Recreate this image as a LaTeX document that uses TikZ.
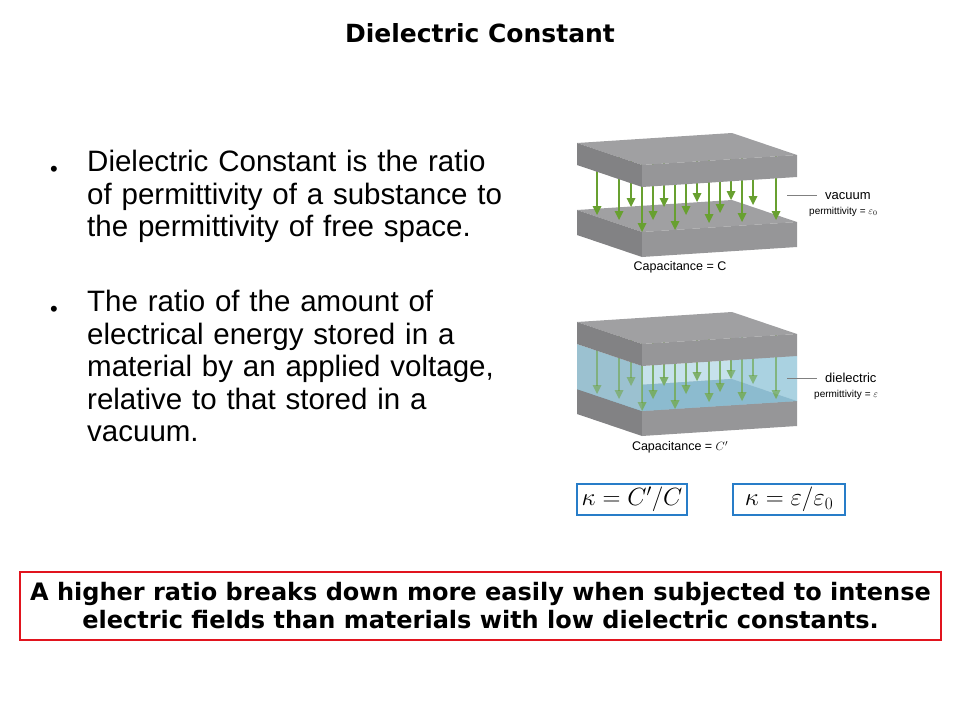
\documentclass[tikz,border=0pt]{standalone}
\usepackage{fontspec}
\setmainfont{Liberation Sans}
\newfontfamily\djv{DejaVu Sans}
\usetikzlibrary{calc}
\definecolor{topg}{RGB}{160,160,162}
\definecolor{leftg}{RGB}{130,130,132}
\definecolor{frontg}{RGB}{150,150,152}
\definecolor{arrg}{RGB}{104,160,48}
\definecolor{blu}{RGB}{160,205,222}
\definecolor{dblu}{RGB}{110,160,185}
\definecolor{boxb}{RGB}{40,125,200}
\definecolor{redb}{RGB}{225,20,30}
\tikzset{
  body/.style={font=\fontsize{29.5}{32.5}\selectfont, anchor=base west, inner sep=0},
  lbl/.style={font=\fontsize{13}{15}\selectfont, anchor=base west, inner sep=0},
  sub/.style={font=\fontsize{10}{12}\selectfont, anchor=base west, inner sep=0},
  fbox/.style={draw=boxb, line width=1.5pt, minimum width=110pt, minimum height=31pt, inner sep=0, font=\fontsize{25}{26}\selectfont},
  farr/.style={arrg, line width=1.2pt},
}
\newcommand{\myplate}[2]{%
  \fill[topg] (577,#1) -- (732,#1-10) -- (797,#1+12) -- (642,#1+22) -- cycle;
  \fill[leftg] (577,#1) -- (642,#1+22) -- (642,#1+22+#2) -- (577,#1+#2) -- cycle;
  \fill[frontg] (642,#1+22) -- (797,#1+12) -- (797,#1+12+#2) -- (642,#1+22+#2) -- cycle;
}
\newcommand{\myarrows}[2]{%
  \foreach \x/\t in {597/215,619/220,631/207,642/232,653/220,664/207,675/230,686/215,697/202,709/223,720/213,731/200,742/222,753/205,776/220}{
    \draw[farr,#2] (\x,#1+150) -- (\x,#1+\t-8);
    \fill[#2,arrg] (\x-4.5,#1+\t-9) -- (\x+4.5,#1+\t-9) -- (\x,#1+\t) -- cycle;
  }
}
\begin{document}
\begin{tikzpicture}[x=1pt,y=-1pt]
\useasboundingbox (0,0) rectangle (960,720);
\node[font=\djv\bfseries\fontsize{25}{28}\selectfont] (title) at (480,33) {Dielectric Constant};

\node[body, font=\fontsize{22}{24}\selectfont] (b1) at (50,176) {•};
\node[body, align=left, text width=440pt, anchor=north west] (t1) at (87,150) {Dielectric Constant is the ratio\\of permittivity of a substance to\\the permittivity of free space.};
\node[body, font=\fontsize{22}{24}\selectfont] (b2) at (50,316) {•};
\node[body, align=left, text width=440pt, anchor=north west] (t2) at (87,290) {The ratio of the amount of\\electrical energy stored in a\\material by an applied voltage,\\relative to that stored in a\\vacuum.};

% top capacitor
\myplate{210}{25}
\myarrows{0}{}
\myplate{143}{22}
\coordinate (v1) at (787,195);
\coordinate (v2) at (817,195);
\draw[gray] (v1) -- (v2);
\node[lbl] (vac) at (825,199) {vacuum};
\node[sub] (pv) at (809,214) {permittivity = $\varepsilon_0$};
\node[font=\fontsize{12.5}{14}\selectfont] (cap1) at (680,267) {Capacitance = C};

% bottom capacitor
\def\dy{179}
\myplate{210+\dy}{25}
\fill[dblu] (577,210+\dy) -- (732,200+\dy) -- (797,222+\dy) -- (642,232+\dy) -- cycle;
\myarrows{\dy}{opacity=0.8}
\fill[blu, opacity=0.75] (732,155+\dy) -- (797,177+\dy) -- (797,222+\dy) -- (732,200+\dy) -- cycle;
\fill[blu!85!gray] (577,165+\dy) -- (642,187+\dy) -- (642,232+\dy) -- (577,210+\dy) -- cycle;
\fill[blu, opacity=0.6] (642,187+\dy) -- (797,177+\dy) -- (797,222+\dy) -- (642,232+\dy) -- cycle;
\myarrows{\dy}{opacity=0.5}
\myplate{143+\dy}{22}
\coordinate (d1) at (787,378);
\coordinate (d2) at (817,378);
\draw[gray] (d1) -- (d2);
\node[lbl] (diel) at (825,382) {dielectric};
\node[sub] (pd) at (814,397) {permittivity = $\varepsilon$};
\node[font=\fontsize{12.5}{14}\selectfont] (cap2) at (680,447) {Capacitance = $C'$};

\node[fbox] (f1) at (632,499.5) {$\kappa = C'/C$};
\node[fbox, minimum width=112pt] (f2) at (789,499.5) {$\kappa = \varepsilon/\varepsilon_0$};

\node[draw=redb, line width=2pt, minimum width=921pt, minimum height=68pt, align=center, font=\djv\bfseries\fontsize{24}{28}\selectfont] (note) at (480.5,606) {A higher ratio breaks down more easily when subjected to intense\\electric fields than materials with low dielectric constants.};
\end{tikzpicture}
\end{document}
